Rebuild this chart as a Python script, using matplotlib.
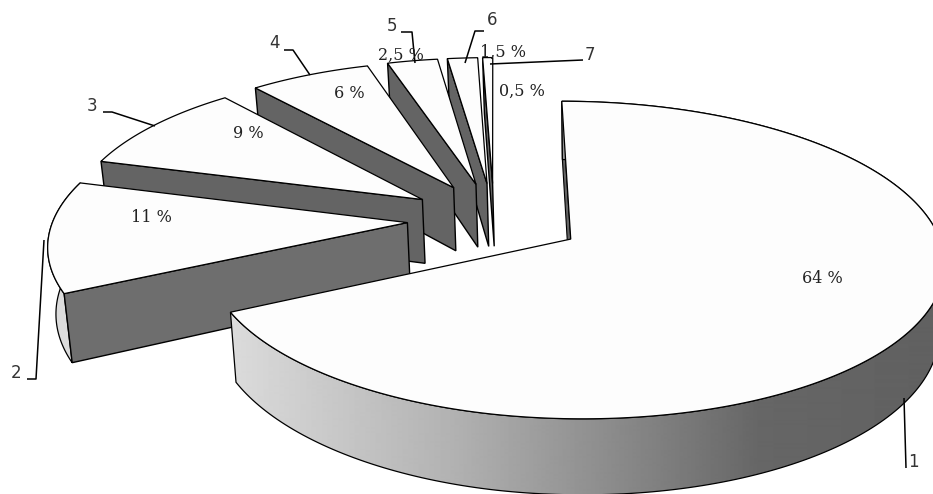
import matplotlib
matplotlib.use("Agg")
import matplotlib.pyplot as plt
import numpy as np
from matplotlib.patches import Polygon

# slice values as printed on the chart (they only add up to 94.5)
values = [64, 11, 9, 6, 2.5, 1.5, 0.5]
names = ["1", "2", "3", "4", "5", "6", "7"]

# label positions in pixels
pct_pos = [(822, 278), (151, 217), (248, 133), (349, 94), (401, 55), (503, 52), (522, 91)]
name_pos = [(913, 462), (16, 373), (92, 106), (274, 43), (392, 26), (492, 20), (590, 55)]
leaders = [
    [(904, 398), (906, 468)],
    [(27, 379), (36, 379), (44, 240)],
    [(103, 112), (112, 112), (155, 126)],
    [(284, 50), (293, 50), (310, 75)],
    [(401, 32), (412, 32), (415, 63)],
    [(484, 31), (475, 31), (465, 63)],
    [(583, 60), (490, 64)],
]

explode = 0.245
# perspective of the pie plane, fitted by eye
X0, Y0, SX, SY, P = 494, 239, 360, 156, 0.132
V0 = 0.129
RIGHT_STRETCH = 1.025
DEPTH, SHRINK, PIVOT = 66, 0.015, 600


def project(u, v):
    w = 1 + P * (v + V0)
    u = np.where(u > 0, u * RIGHT_STRETCH, u)
    return X0 + SX * u / w, Y0 - SY * (v + V0) / w, w


def lower(x, y, w):
    return PIVOT + (x - PIVOT) * (1 - SHRINK), y + DEPTH / w


fig, ax = plt.subplots(figsize=(9.33, 4.94), dpi=100)
ax.set_position([0, 0, 1, 1])
ax.set_xlim(0, 933)
ax.set_ylim(494, 0)
ax.axis("off")

edges = np.cumsum([0] + values) / sum(values) * 2 * np.pi

# grey ramp of the big slice's outer wall
ramp = np.interp(np.arange(933), [230, 450, 640, 760, 933], [0.86, 0.70, 0.52, 0.40, 0.38])


def slice_shape(i):
    a0, a1 = edges[i], edges[i + 1]
    mid = (a0 + a1) / 2
    cu, cv = explode * np.sin(mid), explode * np.cos(mid)
    t = np.linspace(a0, a1, 240)
    return project(cu, cv), project(cu + np.sin(t), cv + np.cos(t))


# back to front: smallest slice first, the big one last
for i in range(len(values) - 1, -1, -1):
    apex, (rx, ry, rw) = slice_shape(i)
    bx, by = lower(rx, ry, rw)
    ax_b, ay_b = lower(apex[0], apex[1], apex[2])
    z = 10 + 10 * (6 - i)

    wall = [(rx[0], ry[0]), (apex[0], apex[1]), (ax_b, ay_b), (bx[0], by[0])]
    dark = "#6e6e6e" if i == 1 else "#646464"

    if i == 0:
        ax.add_patch(Polygon(wall, closed=True, fc=dark, ec="black", lw=0.8, zorder=z - 1))

    # outer wall
    if i < 2:
        outline = list(zip(rx, ry)) + list(zip(bx[::-1], by[::-1]))
        if i == 0:
            clip = Polygon(outline, closed=True, fc="none", ec="black", lw=0.9, zorder=z + 0.5)
            ax.add_patch(clip)
            im = ax.imshow(ramp[np.newaxis, :], extent=(0, 933, 494, 0), cmap="gray", vmin=0, vmax=1,
                           aspect="auto", zorder=z, interpolation="bilinear")
            im.set_clip_path(clip)
        else:
            ax.add_patch(Polygon(outline, closed=True, fc="#dcdcdc", ec="black", lw=0.9, zorder=z))

    if i > 0:
        ax.add_patch(Polygon(wall, closed=True, fc=dark, ec="black", lw=1.0, zorder=z + 1))
    top = [(apex[0], apex[1])] + list(zip(rx, ry))
    ax.add_patch(Polygon(top, closed=True, fc="#fdfdfd", ec="black", lw=0.9, zorder=z + 2))

ax.set_xlim(0, 933)
ax.set_ylim(494, 0)

for i, v in enumerate(values):
    txt = f"{v:g} %".replace(".", ",")
    ax.text(pct_pos[i][0], pct_pos[i][1], txt, family="DejaVu Serif", fontsize=11.5,
            color="#222222", ha="center", va="center", zorder=100)
    ax.text(name_pos[i][0], name_pos[i][1], names[i], family="DejaVu Sans", fontsize=12,
            color="#333333", ha="center", va="center", zorder=100)
    xs, ys = zip(*leaders[i])
    ax.plot(xs, ys, color="black", lw=1.1, zorder=90, solid_capstyle="butt")

fig.savefig("out.png", dpi=100, facecolor="white")
